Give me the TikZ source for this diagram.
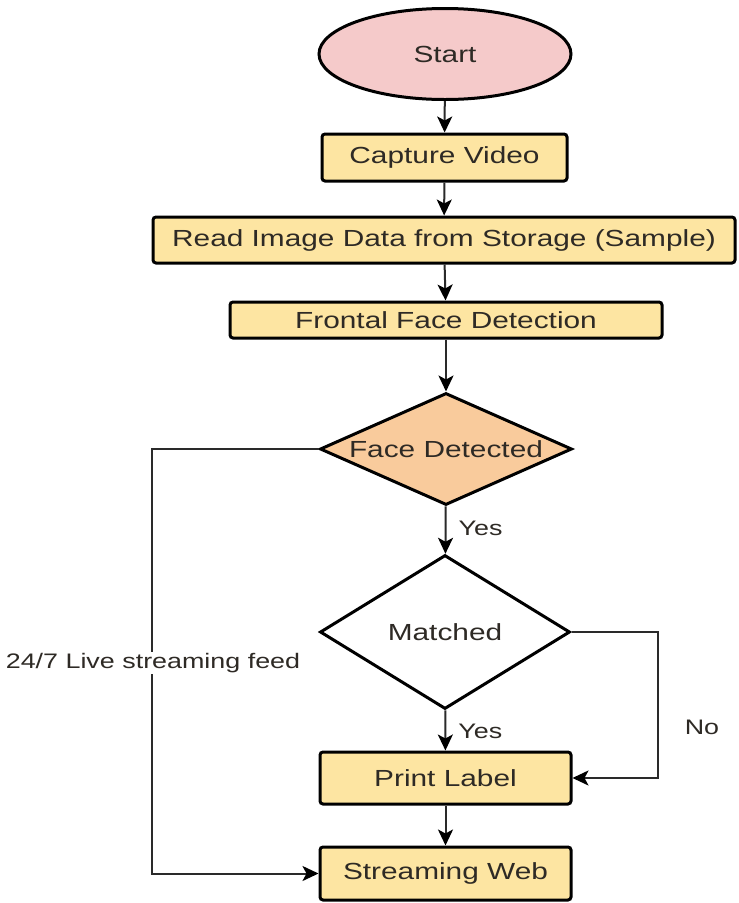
\documentclass[tikz,border=0pt]{standalone}
\usepackage{fontspec}
\setmainfont{Liberation Sans}[FakeStretch=1.28]
\usetikzlibrary{shapes.geometric,arrows.meta}
\definecolor{pinkfill}{HTML}{F5CACA}
\definecolor{boxfill}{HTML}{FDE5A2}
\definecolor{orangefill}{HTML}{F9CB9C}
\definecolor{txt}{HTML}{2E2A25}
\definecolor{conn}{HTML}{2A2A2A}
\tikzset{
  base/.style={draw=black, line width=3pt, text=txt, inner sep=0pt,
    font=\fontsize{23.3}{26}\selectfont},
  startbox/.style={base, ellipse, fill=pinkfill},
  procbox/.style={base, rectangle, rounded corners=3pt, fill=boxfill},
  decbox/.style={base, diamond, label={[text=txt, font=\fontsize{23.3}{26}\selectfont]center:#1}},
  arr/.style={draw=conn, line width=2pt,
    -{Stealth[length=16pt,width=15pt,inset=4pt,color=black]}},
  lbl/.style={text=txt, inner sep=2pt, font=\fontsize{21}{24}\selectfont}
}
\begin{document}
\begin{tikzpicture}[x=1pt,y=-1pt]
\useasboundingbox (0,0) rectangle (739,903);
\fill[white] (0,0) rectangle (739,903);

\node[startbox, minimum width=252pt, minimum height=91pt] (start) at (445,54) {Start};
\node[procbox, minimum width=245pt, minimum height=47pt] (cap) at (444.5,157.5) {Capture Video};
\node[procbox, minimum width=582pt, minimum height=46pt] (read) at (444,240) {Read Image Data from Storage (Sample)};
\node[procbox, minimum width=432pt, minimum height=36pt] (front) at (446,320) {Frontal Face Detection};
\node[decbox=Face Detected, fill=orangefill, minimum width=252pt, minimum height=112pt] (fd) at (446,449) {};
\node[decbox=Matched, fill=white, minimum width=250pt, minimum height=154pt] (match) at (445,632) {};
\node[procbox, minimum width=251pt, minimum height=52pt] (print) at (445.5,778) {Print Label};
\node[procbox, minimum width=251pt, minimum height=53pt] (web) at (445.5,873.5) {Streaming Web};

\coordinate (lx) at (152,0);
\coordinate (rx) at (658,0);

\draw[arr] (start) -- (cap);
\draw[arr] (cap) -- (read);
\draw[arr] (read) -- (front);
\draw[arr] (front) -- (fd);
\draw[arr] (fd) -- node[lbl, right, pos=0.42, xshift=10pt, yshift=-2pt] (yes1) {Yes} (match);
\draw[arr] (match) -- node[lbl, right, pos=0.45, xshift=10pt, yshift=-3pt] (yes2) {Yes} (print);
\draw[arr] (print) -- (web);
\draw[arr] (fd.west) -- (fd.west -| lx) |- (web.west);
\draw[arr] (match.east) -- (match.east -| rx) |- (print.east);

\node[lbl, fill=white, inner sep=1pt] (feed) at (153,663) {24/7 Live streaming feed};
\node[lbl] (no) at (702,727) {No};
\end{tikzpicture}
\end{document}
